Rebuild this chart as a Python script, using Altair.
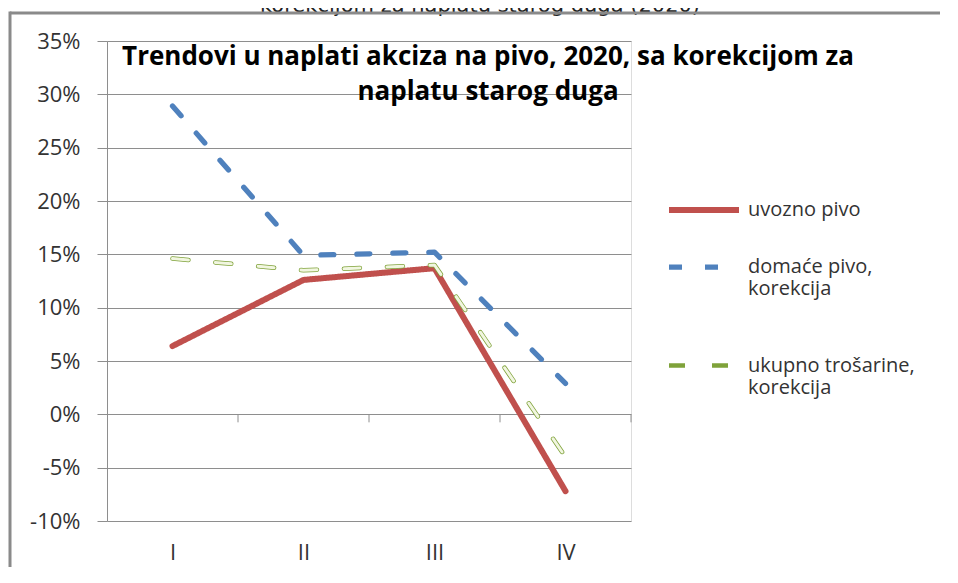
import altair as alt
import pandas as pd

quarters = ["I", "II", "III", "IV"]
positions = [1, 2, 3, 4]
series_names = ["uvozno pivo", "domaće pivo, korekcija", "ukupno trošarine, korekcija"]
uvozno = [0.064, 0.126, 0.137, -0.072]
domace = [0.289, 0.149, 0.152, 0.029]
ukupno = [0.146, 0.135, 0.140, -0.040]
y_ticks = [-0.10, -0.05, 0.0, 0.05, 0.10, 0.15, 0.20, 0.25, 0.30, 0.35]
cat_bounds = [1.5, 2.5, 3.5, 4.5]
colors = ["#C0504D", "#4F81BD", "#7FA23A"]
dashes = [[1, 0], [13, 23], [16, 27]]
widths = [6, 4.5, 8]
top_text = "korekcijom za naplatu starog duga (2020)"
title_lines = ["Trendovi u naplati akciza na pivo, 2020, sa korekcijom za", "naplatu starog duga"]

rows = []
for name, vals in zip(series_names, [uvozno, domace, ukupno]):
    for q, p, v in zip(quarters, positions, vals):
        rows.append({"serija": name, "kvartal": q, "pos": p, "vrijednost": v})
df = pd.DataFrame(rows)
ticks_df = pd.DataFrame({"b": cat_bounds})

x_enc = alt.X(
    "pos:Q",
    scale=alt.Scale(domain=[0.5, 4.5], nice=False, zero=False),
    axis=alt.Axis(
        values=positions,
        labelExpr="['I','II','III','IV'][datum.value - 1]",
        title=None, grid=False, domain=False, ticks=False, tickSize=0,
        labelPadding=21, labelFont="Open Sans", labelFontSize=22,
        labelColor="#333333", labelBaseline="top",
    ),
)
y_enc = alt.Y(
    "vrijednost:Q",
    scale=alt.Scale(domain=[-0.10, 0.35], nice=False, zero=False),
    axis=alt.Axis(
        values=y_ticks, labelExpr="round(datum.value * 100) + '%'",
        title=None, grid=True, gridColor="#8E8E8E", gridWidth=1,
        domain=True, domainColor="#8E8E8E", domainWidth=1,
        ticks=True, tickSize=10, tickColor="#8E8E8E", tickWidth=1,
        labelPadding=17, labelFont="Open Sans", labelFontSize=22,
        labelColor="#333333",
    ),
)

lines = alt.Chart(df).mark_line(strokeCap="round", strokeJoin="round").encode(
    x=x_enc,
    y=y_enc,
    color=alt.Color(
        "serija:N",
        scale=alt.Scale(domain=series_names, range=colors),
        legend=alt.Legend(
            title=None, orient="none", legendX=559, legendY=131,
            symbolType="stroke", symbolSize=4900, padding=0,
            labelFont="Open Sans", labelFontSize=20, labelColor="#333333",
            labelExpr="split(replace(datum.label, ', ', ',|') + (datum.index == 1 ? '| ' : ''), '|')",
            labelOffset=6, rowPadding=7, labelLimit=300,
        ),
    ),
    strokeDash=alt.StrokeDash(
        "serija:N", scale=alt.Scale(domain=series_names, range=dashes), legend=None
    ),
    strokeWidth=alt.StrokeWidth(
        "serija:N", scale=alt.Scale(domain=series_names, range=widths), legend=None
    ),
    order=alt.Order("pos:Q"),
)

inner = alt.Chart(df).transform_filter(
    alt.datum.serija == series_names[2]
).mark_line(
    color="#F1F6E0", strokeWidth=3, strokeDash=dashes[2], strokeCap="round", strokeJoin="round"
).encode(x="pos:Q", y="vrijednost:Q", order="pos:Q")

tick_marks = alt.Chart(ticks_df).mark_rule(color="#8E8E8E", strokeWidth=1).encode(
    x="b:Q", y=alt.datum(0.0), y2=alt.datum(-0.0075)
)

top_label = alt.Chart(pd.DataFrame({"t": [top_text]})).mark_text(
    font="DejaVu Sans", fontSize=21, color="#222222", align="center", baseline="alphabetic"
).encode(text="t:N", x=alt.value(373), y=alt.value(-29))

frame_df = pd.DataFrame({"t": [0]})
frame_top = alt.Chart(frame_df).mark_rule(color="#8A8A8A", strokeWidth=3).encode(
    x=alt.value(-97), x2=alt.value(840), y=alt.value(-28), y2=alt.value(-28)
)
frame_left = alt.Chart(frame_df).mark_rule(color="#8A8A8A", strokeWidth=3).encode(
    x=alt.value(-97), x2=alt.value(-97), y=alt.value(-29.5), y2=alt.value(600)
)

chart = alt.layer(tick_marks, lines, inner, top_label, frame_top, frame_left).properties(
    width=524, height=480,
    padding={"left": 99, "top": 33, "right": 309, "bottom": 46},
    autosize=alt.AutoSizeParams(type="none"),
    title=alt.TitleParams(
        text=title_lines, anchor="middle", frame="group", dx=119, offset=-110,
        font="Open Sans", fontSize=26, fontWeight="bold", color="#000000", lineHeight=35,
    ),
).configure_view(strokeWidth=0).configure(background="white")

chart.save("out.html", embed_options={"renderer": "svg", "actions": False})
